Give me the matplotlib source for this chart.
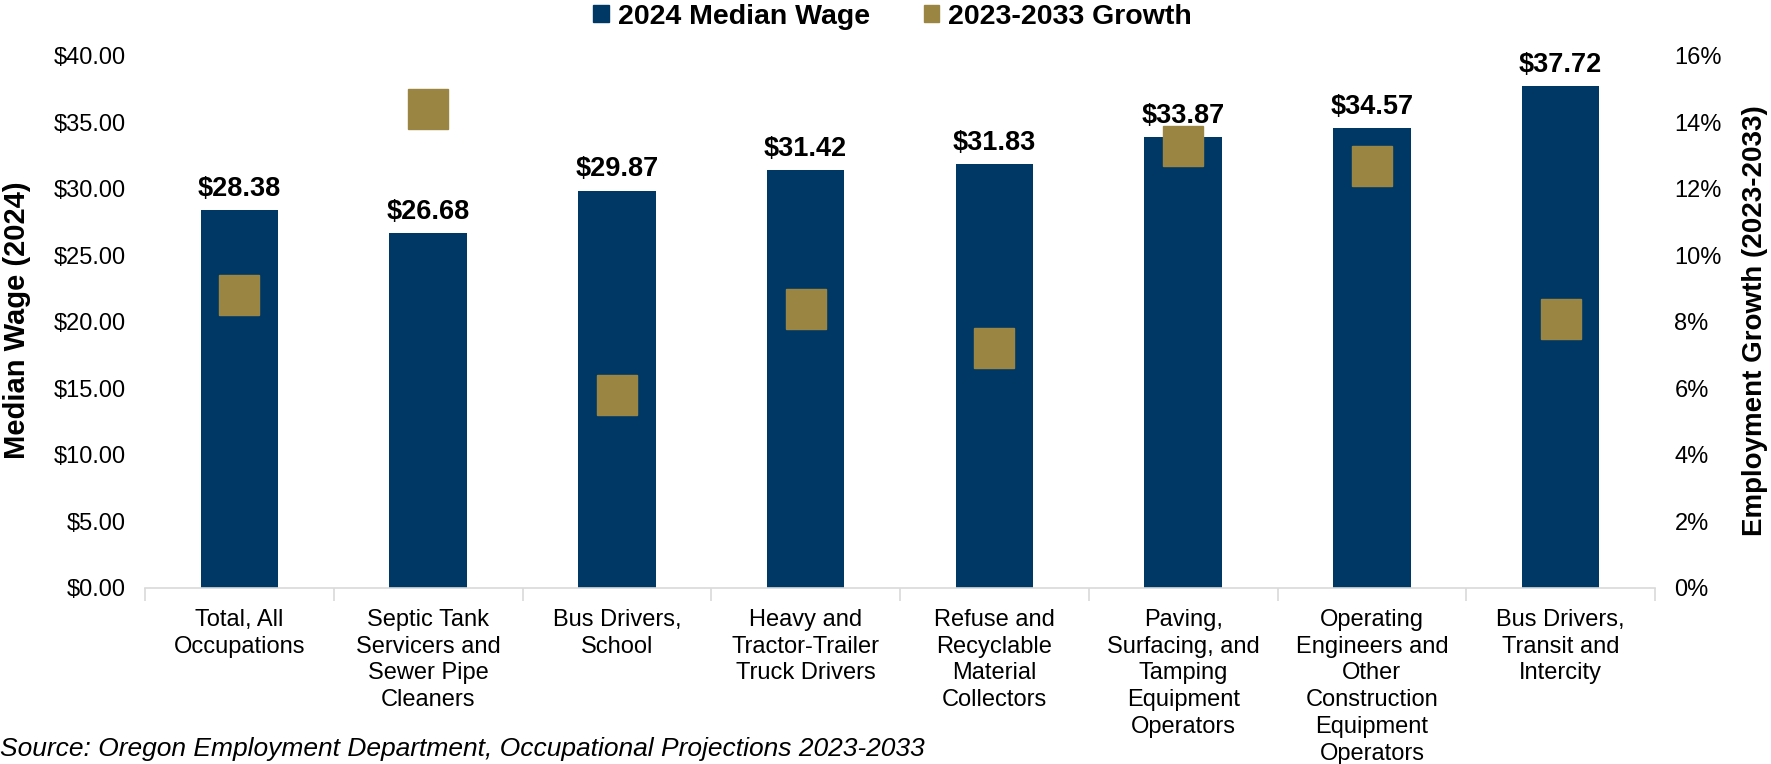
import matplotlib.pyplot as plt
from matplotlib.ticker import FuncFormatter
from matplotlib.patches import Patch

plt.rcParams['font.family'] = ['Liberation Sans', 'DejaVu Sans']

categories = [
    "Total, All\nOccupations",
    "Septic Tank\nServicers and\nSewer Pipe\nCleaners",
    "Bus Drivers,\nSchool",
    "Heavy and\nTractor-Trailer\nTruck Drivers",
    "Refuse and\nRecyclable\nMaterial\nCollectors",
    "Paving,\nSurfacing, and\nTamping\nEquipment\nOperators",
    "Operating\nEngineers and\nOther\nConstruction\nEquipment\nOperators",
    "Bus Drivers,\nTransit and\nIntercity",
]
wages = [28.38, 26.68, 29.87, 31.42, 31.83, 33.87, 34.57, 37.72]
growth = [8.8, 14.4, 5.8, 8.4, 7.2, 13.3, 12.7, 8.1]

bar_color = "#003865"
marker_color = "#9A8642"
axis_gray = "#D9D9D9"

fig = plt.figure(figsize=(17.71, 7.64), dpi=100)
ax = fig.add_axes([0.0819, 0.2304, 0.8526, 0.6966])
x = list(range(len(categories)))

bars = ax.bar(x, wages, width=0.41, color=bar_color, zorder=2)
ax.set_xlim(-0.5, len(categories) - 0.5)
ax.set_ylim(0, 40)
ax.set_yticks([0, 5, 10, 15, 20, 25, 30, 35, 40])
ax.yaxis.set_major_formatter(FuncFormatter(lambda v, p: f"${v:,.2f}"))
ax.tick_params(axis="y", length=0, labelsize=17, pad=14)

# category labels centred, ticks at the boundaries
ax.set_xticks(x)
ax.set_xticklabels(categories, fontsize=17, linespacing=1.28, va="top")
ax.tick_params(axis="x", which="major", length=0, pad=15)
ax.set_xticks([i - 0.5 for i in range(len(categories) + 1)], minor=True)
ax.tick_params(axis="x", which="minor", length=9, color=axis_gray, width=1.2)

for s in ["top", "left", "right"]:
    ax.spines[s].set_visible(False)
ax.spines["bottom"].set_color(axis_gray)
ax.spines["bottom"].set_linewidth(1.2)

for b, w in zip(bars, wages):
    ax.annotate(f"${w:.2f}", (b.get_x() + b.get_width() / 2, w),
                xytext=(0, 6), textcoords="offset points",
                ha="center", va="bottom", fontsize=19.5, fontweight="bold")

ax2 = ax.twinx()
ax2.plot(x, growth, linestyle="none", marker="s", markersize=28.5,
         color=marker_color, zorder=3)
ax2.set_ylim(0, 16)
ax2.set_yticks(range(0, 17, 2))
ax2.yaxis.set_major_formatter(FuncFormatter(lambda v, p: f"{v:.0f}%"))
ax2.tick_params(axis="y", length=0, labelsize=17, pad=14)
for s in ["top", "left", "right", "bottom"]:
    ax2.spines[s].set_visible(False)

fig.text(0.0096, 0.5804, "Median Wage (2024)", rotation=90, ha="center",
         va="center", fontsize=21, fontweight="bold")
fig.text(0.9910, 0.5804, "Employment Growth (2023-2033)", rotation=90,
         ha="center", va="center", fontsize=20, fontweight="bold")

handles = [Patch(color=bar_color), Patch(color=marker_color)]
fig.legend(handles, ["2024 Median Wage", "2023-2033 Growth"], loc="center",
           bbox_to_anchor=(0.504, 0.978), ncol=2, frameon=False,
           prop={"size": 20.5, "weight": "bold"}, handlelength=0.55,
           handleheight=0.55, handletextpad=0.3, columnspacing=1.9)

fig.text(0.0, 0.020, "Source: Oregon Employment Department, Occupational Projections 2023-2033",
         ha="left", va="center", fontsize=19, fontstyle="italic")

fig.savefig("out.png", dpi=100)
